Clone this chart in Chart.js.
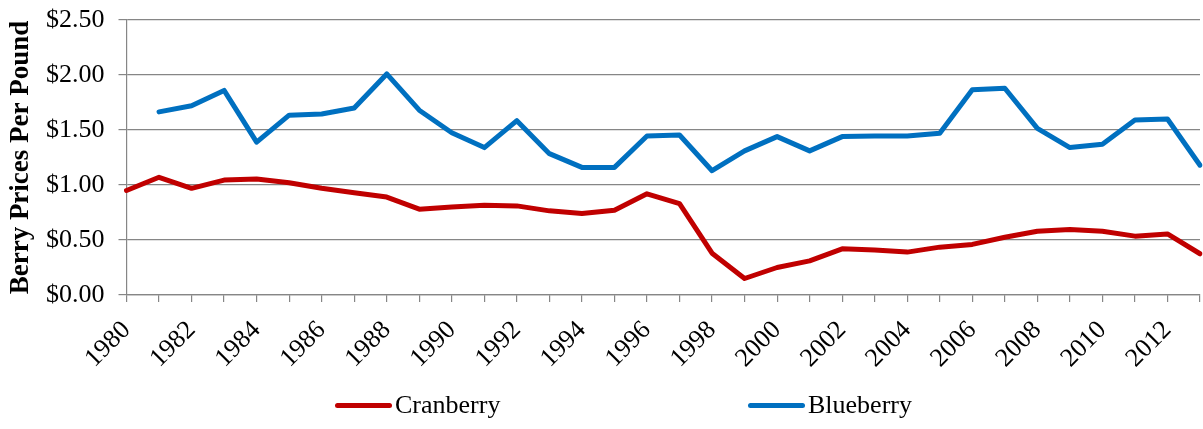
<!DOCTYPE html>
<html>
<head>
<meta charset="utf-8">
<script src="https://cdn.jsdelivr.net/npm/chart.js@4.4.1/dist/chart.umd.min.js"></script>
<style>
  body { margin: 0; background: #fff; }
  #wrap { position: relative; width: 1203px; height: 429px; }
  #legend { position: absolute; top: 390px; left: 0; width: 1203px; height: 30px;
    font-family: "Liberation Serif", "Times New Roman", serif; font-size: 26px; color: #000; }
  .item { position: absolute; top: 0; height: 30px; display: flex; align-items: center; }
  .swatch { width: 57px; height: 5px; border-radius: 3px; margin-right: 3px; }
</style>
</head>
<body>
<div id="wrap">
  <canvas id="chart" width="1203" height="429"></canvas>
  <div id="legend"></div>
</div>
<script>
const years = ['1980','1981','1982','1983','1984','1985','1986','1987','1988','1989',
  '1990','1991','1992','1993','1994','1995','1996','1997','1998','1999',
  '2000','2001','2002','2003','2004','2005','2006','2007','2008','2009',
  '2010','2011','2012','2013'];
const cranberry = [0.95,1.07,0.97,1.045,1.055,1.02,0.97,0.93,0.89,0.78,
  0.80,0.815,0.81,0.765,0.74,0.77,0.92,0.83,0.38,0.15,
  0.25,0.31,0.42,0.41,0.39,0.435,0.46,0.525,0.58,0.595,
  0.58,0.535,0.555,0.375];
const blueberry = [null,1.665,1.72,1.86,1.39,1.635,1.645,1.70,2.01,1.68,
  1.475,1.34,1.585,1.285,1.16,1.16,1.445,1.455,1.13,1.31,
  1.44,1.31,1.44,1.445,1.445,1.47,1.865,1.88,1.515,1.34,
  1.37,1.59,1.60,1.18];
const yTicks = ['$0.00','$0.50','$1.00','$1.50','$2.00','$2.50'];

const seriesNames = ['Cranberry', 'Blueberry'];
const seriesColors = ['#C00000', '#0070C0'];
const font = 'Liberation Serif';
const gray = '#868686';

const ctx = document.getElementById('chart').getContext('2d');
const chart = new Chart(ctx, {
  type: 'line',
  data: {
    labels: years,
    datasets: [
      { label: seriesNames[0], data: cranberry, borderColor: seriesColors[0], backgroundColor: seriesColors[0] },
      { label: seriesNames[1], data: blueberry, borderColor: seriesColors[1], backgroundColor: seriesColors[1] }
    ]
  },
  options: {
    responsive: false,
    animation: false,
    elements: {
      line: { borderWidth: 5, tension: 0, borderJoinStyle: 'round', borderCapStyle: 'round' },
      point: { radius: 0, hoverRadius: 0 }
    },
    layout: { padding: { top: 20, right: 3, left: 0, bottom: 0 } },
    plugins: { legend: { display: false }, tooltip: { enabled: false } },
    scales: {
      x: {
        offset: false,
        grid: { drawOnChartArea: false, color: gray, tickLength: 7, lineWidth: 1.2 },
        border: { color: gray, width: 1.2 },
        ticks: {
          autoSkip: false, minRotation: 45, maxRotation: 45, padding: 13,
          color: '#000', font: { family: font, size: 26 },
          callback: function(v, i) { return i % 2 === 0 ? years[i] : ''; }
        },
        afterFit: function(s) { s.height = 134; s.paddingLeft = 0; s.paddingRight = 0; }
      },
      y: {
        min: 0, max: 2.5,
        grid: { color: gray, tickLength: 8, lineWidth: 1.2 },
        border: { color: gray, width: 1.2 },
        ticks: {
          stepSize: 0.5, padding: 14, color: '#000', font: { family: font, size: 26 },
          callback: function(v) { return yTicks[Math.round(v / 0.5)]; }
        },
        title: {
          display: true, text: 'Berry Prices Per Pound', color: '#000',
          font: { family: font, size: 27, weight: 'bold' }, padding: { top: 5, bottom: 0 }
        },
        afterFit: function(s) { s.width = 126.5; s.paddingTop = 0; s.paddingBottom = 0; }
      }
    }
  }
});

// legend below the plot, spaced like the original
const legendLeft = [335, 748];
const legend = document.getElementById('legend');
seriesNames.forEach(function(name, i) {
  const item = document.createElement('div');
  item.className = 'item';
  item.style.left = legendLeft[i] + 'px';
  const sw = document.createElement('div');
  sw.className = 'swatch';
  sw.style.background = seriesColors[i];
  const txt = document.createElement('span');
  txt.textContent = name;
  item.appendChild(sw);
  item.appendChild(txt);
  legend.appendChild(item);
});
</script>
</body>
</html>
